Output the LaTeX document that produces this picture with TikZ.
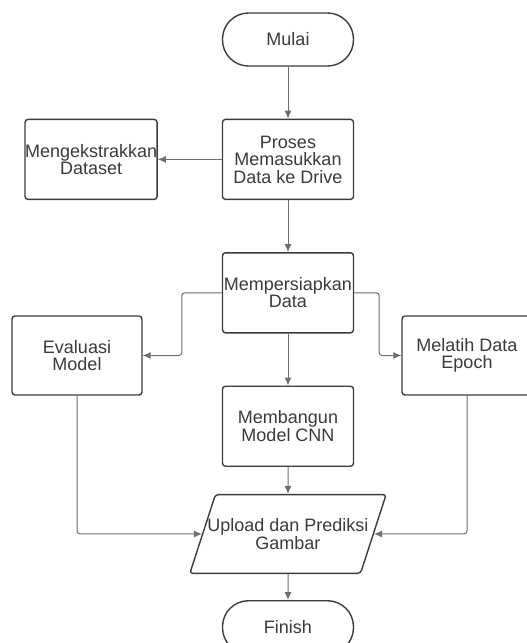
\documentclass[tikz,border=0pt]{standalone}
\usepackage{fontspec}
\setmainfont{Liberation Sans}
\usepackage{tikz}
\usetikzlibrary{positioning,shapes.geometric,arrows.meta,calc}
\definecolor{linegray}{HTML}{3C3C3C}
\definecolor{conngray}{HTML}{6E6E6E}
\definecolor{textgray}{HTML}{3A3A3A}
\tikzstyle{box1} = [rectangle, draw=linegray, line width=1.4pt, %
   rounded corners=3pt, minimum width=131pt, minimum height=80pt, %
   inner sep=0pt, align=center, text=textgray]
\tikzstyle{term} = [box1, rounded corners=26pt, minimum height=53pt]
\tikzstyle{io} = [trapezium, trapezium left angle=72, trapezium right angle=108, %
   draw=linegray, line width=1.4pt, rounded corners=3pt, %
   inner ysep=24pt, inner xsep=-8pt, align=center, text=textgray]
\tikzstyle{line} = [draw=conngray, line width=1pt, rounded corners=3pt, %
   -{Latex[length=8pt,width=7pt]}]

\begin{document}
\begin{tikzpicture}[x=1pt,y=-1pt,font=\fontsize{18}{17.5}\selectfont]
   \useasboundingbox (0,0) rectangle (527,643);
   \clip (0,0) rectangle (527,643);
   % Place nodes
   \node[term](start) at (288,39.5){Mulai};
   \node[box1, below=52pt of start](input){Proses\\Memasukkan\\Data ke Drive};
   \node[box1, left=64pt of input](extract){Mengekstrakkan\\Dataset};
   \node[box1, below=52pt of input](prep){Mempersiapkan\\Data};
   \node[box1, below=52pt of prep](cnn){Membangun\\Model CNN};
   \node[io, below=27pt of cnn](upload){Upload dan Prediksi\\Gambar};
   \node[term, below=26pt of upload](finish){Finish};

   \node[box1, minimum width=130pt, minimum height=79pt](eval) at (77,355.5){Evaluasi\\Model};
   \node[box1, minimum width=130pt, minimum height=79pt](train) at (467,355.5){Melatih Data\\Epoch};
   \coordinate (turnL) at ($(prep.west)+(-40pt,0pt)$);
   \coordinate (turnR) at ($(prep.east)+(25pt,0pt)$);

   % Draw edges
   % Main spine
   \path [line] (start) -- (input);
   \path [line] (input) -- (extract);
   \path [line] (input) -- (prep);
   \path [line] (prep) -- (cnn);
   \path [line] (cnn) -- (upload);
   \path [line] (upload) -- (finish);
   % Side branches
   \path [line] (prep.west) -- (turnL) |- (eval.east);
   \path [line] (prep.east) -- (turnR) |- (train.west);
   \path [line] (eval) |- (upload.west);
   \path [line] (train) |- (upload.east);
\end{tikzpicture}
\end{document}
